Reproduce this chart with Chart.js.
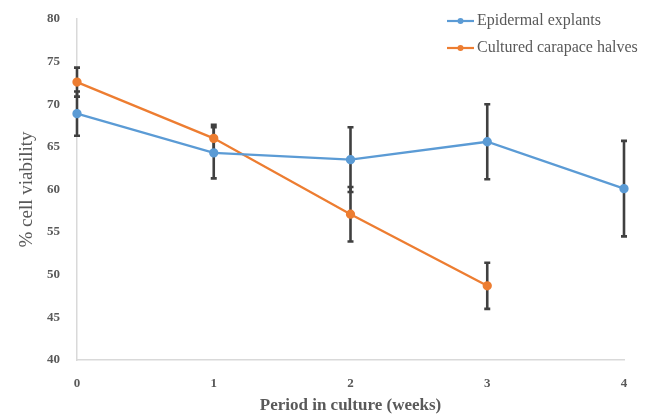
<!DOCTYPE html>
<html>
<head>
<meta charset="utf-8">
<script src="https://cdn.jsdelivr.net/npm/chart.js@4"></script>
<style>
  html, body { margin: 0; padding: 0; background: #fff; }
  #wrap { width: 657px; height: 416px; }
</style>
</head>
<body>
<div id="wrap"><canvas id="viability"></canvas></div>
<script>
// weeks in culture
const weeks = [0, 1, 2, 3, 4];
// % cell viability, mean and error (+/-)
const epidermal = [68.9, 64.3, 63.5, 65.6, 60.1];
const epidermalErr = [2.6, 3.0, 3.8, 4.4, 5.6];
const carapace = [72.6, 66.0, 57.1, 48.7];
const carapaceErr = [1.7, 1.6, 3.2, 2.7];
const yTicks = [40, 45, 50, 55, 60, 65, 70, 75, 80];

const serif = "'Liberation Serif', 'DejaVu Serif', serif";
const grey = '#595959';

const errorBars = {
  id: 'errorBars',
  beforeDatasetsDraw(chart) {
    const ctx = chart.ctx;
    const x = chart.scales.x, y = chart.scales.y;
    const errs = [epidermalErr, carapaceErr];
    ctx.save();
    ctx.strokeStyle = '#404040';
    ctx.lineWidth = 2.6;
    chart.data.datasets.forEach((ds, i) => {
      ds.data.forEach((p, j) => {
        const px = x.getPixelForValue(p.x);
        const top = y.getPixelForValue(p.y + errs[i][j]);
        const bot = y.getPixelForValue(p.y - errs[i][j]);
        ctx.beginPath();
        ctx.moveTo(px, top); ctx.lineTo(px, bot);
        ctx.moveTo(px - 3, top); ctx.lineTo(px + 3, top);
        ctx.moveTo(px - 3, bot); ctx.lineTo(px + 3, bot);
        ctx.stroke();
      });
    });
    ctx.restore();
  }
};

// legend drawn inside the plot, top right, like the original
const boxLegend = {
  id: 'boxLegend',
  afterDraw(chart) {
    const ctx = chart.ctx;
    ctx.save();
    ctx.font = '16px ' + serif;
    ctx.textBaseline = 'middle';
    chart.data.datasets.forEach((ds, i) => {
      const ly = 21 + i * 27;
      ctx.strokeStyle = ds.borderColor;
      ctx.lineWidth = 2.2;
      ctx.beginPath();
      ctx.moveTo(447, ly); ctx.lineTo(474, ly);
      ctx.stroke();
      ctx.fillStyle = ds.borderColor;
      ctx.beginPath();
      ctx.arc(460.5, ly, 3, 0, Math.PI * 2);
      ctx.fill();
      ctx.fillStyle = grey;
      ctx.fillText(ds.label, 477, ly);
    });
    ctx.restore();
  }
};

new Chart(document.getElementById('viability'), {
  type: 'line',
  data: {
    datasets: [
      {
        label: 'Epidermal explants',
        data: weeks.map((w, i) => ({ x: w, y: epidermal[i] })),
        borderColor: '#5B9BD5',
        backgroundColor: '#5B9BD5',
        borderWidth: 2.3,
        pointRadius: 3.5,
        pointHoverRadius: 3.5,
        tension: 0,
        clip: false
      },
      {
        label: 'Cultured carapace halves',
        data: carapace.map((v, i) => ({ x: weeks[i], y: v })),
        borderColor: '#ED7D31',
        backgroundColor: '#ED7D31',
        borderWidth: 2.3,
        pointRadius: 3.5,
        pointHoverRadius: 3.5,
        tension: 0,
        clip: false
      }
    ]
  },
  options: {
    responsive: true,
    maintainAspectRatio: false,
    animation: false,
    layout: { padding: { top: 19, right: 33, left: 0, bottom: 0 } },
    plugins: {
      legend: { display: false },
      tooltip: { enabled: false }
    },
    scales: {
      x: {
        type: 'linear',
        min: 0,
        max: 4,
        afterBuildTicks: s => { s.ticks = weeks.map(v => ({ value: v })); },
        grid: { display: true, drawOnChartArea: false, drawTicks: false },
        border: { color: '#D9D9D9', width: 1.5 },
        ticks: { color: grey, padding: 16, font: { family: serif, size: 13, weight: 'bold' } },
        title: {
          display: true,
          text: 'Period in culture (weeks)',
          color: grey,
          padding: { top: 4, bottom: 0 },
          font: { family: serif, size: 17, weight: 'bold' }
        },
        afterFit: s => { s.height = 56; s.paddingLeft = 0; s.paddingRight = 0; }
      },
      y: {
        min: 40,
        max: 80,
        afterBuildTicks: s => { s.ticks = yTicks.map(v => ({ value: v })); },
        grid: { display: true, drawOnChartArea: false, drawTicks: false },
        border: { color: '#D9D9D9', width: 1.5 },
        ticks: { color: grey, padding: 17, font: { family: serif, size: 13, weight: 'bold' } },
        title: {
          display: true,
          text: '% cell viability',
          color: grey,
          padding: { top: 16, bottom: 0 },
          font: { family: serif, size: 19 }
        },
        afterFit: s => { s.width = 77; s.paddingTop = 0; s.paddingBottom = 0; }
      }
    }
  },
  plugins: [errorBars, boxLegend]
});
</script>
</body>
</html>
